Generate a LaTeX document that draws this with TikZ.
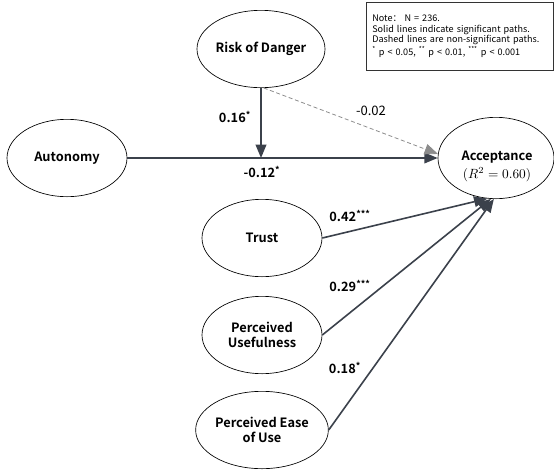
\documentclass[tikz,border=0pt]{standalone}
\usepackage{fontspec}
\setmainfont{Noto Sans CJK SC}[BoldFont={Noto Sans CJK SC Bold}]
\newfontfamily\cjk{Noto Sans CJK SC}
\usetikzlibrary{shapes.geometric,arrows.meta}
\definecolor{pathcol}{HTML}{3B414B}
\definecolor{nscol}{HTML}{8C8C8C}
\tikzset{
	latent/.style={ellipse,draw=black,line width=0.5pt,minimum width=90pt,minimum height=58pt,inner sep=0pt,align=center,font=\fontsize{9.6}{11.4}\selectfont\bfseries},
	sig/.style={draw=pathcol,line width=1.2pt,-{Triangle[length=10pt,width=8pt]}},
	nonsig/.style={draw=nscol,line width=0.6pt,dash pattern=on 3pt off 2pt,-{Triangle[length=10pt,width=8pt]}},
	coef/.style={font=\fontsize{9.6}{11}\selectfont\bfseries,inner sep=0pt},
	notebox/.style={draw=black!80,line width=0.5pt,anchor=north west,align=left,text width=131pt,minimum height=51pt,inner xsep=4.5pt,font=\cjk\fontsize{6.8}{7.9}\selectfont}
}
\begin{document}
\begin{tikzpicture}[x=0.75pt,y=-0.75pt]
	\useasboundingbox (0,0) rectangle (554,469);
	\node [latent] (risk) at (261,49) {Risk of Danger};
	\node [latent] (auto) at (67,158) {Autonomy};
	\node [latent,minimum width=87pt,minimum height=61pt] (accept) at (496,158) {};
	\node [coef] (acctitle) at (497,157) {Acceptance};
	\node [inner sep=0pt] (accr2) at (497,175) {$(R^2=0.60)$};
	\node [latent] (trust) at (262,238) {Trust};
	\node [latent] (useful) at (262,335) {Perceived\\Usefulness};
	\node [latent] (ease) at (262,430) {Perceived Ease\\of Use};
	\coordinate (mod) at (261,158);
	\node [notebox] (note) at (366,2) {Note： N = 236.\\Solid lines indicate significant paths.\\Dashed lines are non-significant paths.\\ \textsuperscript{*} p < 0.05, \textsuperscript{**} p < 0.01, \textsuperscript{***} p < 0.001};
	\draw [sig] (auto) -- (accept);
	\draw [sig] (risk) -- (mod);
	\draw [nonsig] (risk.-86) -- (accept.176);
	\draw [sig] (trust.east) -- (accept.-102);
	\draw [sig] (useful.east) -- (accept.-97);
	\draw [sig] (ease.east) -- (accept.-93);
	\node [coef] (c1) at (235,117) {0.16\textsuperscript{*}};
	\node [coef] (c2) at (262,172) {-0.12\textsuperscript{*}};
	\node [inner sep=0pt,font=\fontsize{9.8}{11}\selectfont] (c3) at (371,111) {-0.02};
	\node [coef] (c4) at (350,216) {0.42\textsuperscript{***}};
	\node [coef] (c5) at (350,286) {0.29\textsuperscript{***}};
	\node [coef] (c6) at (345,368) {0.18\textsuperscript{*}};
\end{tikzpicture}
\end{document}
